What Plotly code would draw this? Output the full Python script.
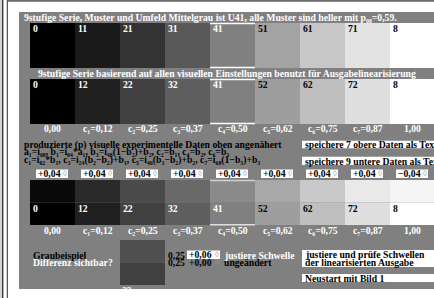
import plotly.graph_objects as go

# ---- data ----
row1_labels = ["0", "11", "21", "31", "41", "51", "61", "71", "8"]
row1_grey = [0.00, 0.10, 0.20, 0.35, 0.50, 0.64, 0.78, 0.89, 1.00]
row2_labels = ["0", "12", "22", "32", "41", "52", "62", "72", "8"]
row2_grey = [0.00, 0.125, 0.25, 0.37, 0.50, 0.62, 0.75, 0.875, 1.00]
c_labels = ["0,00", "c₁=0,12", "c₂=0,25", "c₃=0,37", "c₄=0,50",
            "c₅=0,62", "c₆=0,75", "c₇=0,87", "1,00"]
offsets = [0.04, 0.04, 0.04, 0.04, 0.04, 0.04, 0.04, 0.04, -0.04]
offset_labels = ["+0,04", "+0,04", "+0,04", "+0,04", "+0,04", "+0,04", "+0,04", "+0,04", "−0,04"]
sample_base = 0.25
sample_delta = 0.06
sample_label = "23"

# ---- layout constants ----
W, H = 434, 298
X0, CW = 30, 45
PANEL = "#808080"
FONT = "Liberation Serif, Times New Roman, serif"
FS = 9.7


def grey(v):
    g = int(round(max(0, min(1, v)) * 255))
    return f"rgb({g},{g},{g})"


shapes = []
ann = []


def rect(x0, y0, x1, y1, color):
    shapes.append(dict(type="rect", xref="x", yref="y", x0=x0, y0=y0, x1=x1, y1=y1,
                       fillcolor=color, line=dict(width=0), layer="below"))


def text(x, y, s, color="black", anchor="left", size=FS):
    ann.append(dict(x=x, y=y, xref="x", yref="y", text=f"<b>{s}</b>", showarrow=False,
                    xanchor=anchor, yanchor="middle", borderpad=0,
                    font=dict(family=FONT, size=size, color=color)))


def hline(x0, x1, y, color="white", w=1.5):
    shapes.append(dict(type="line", xref="x", yref="y", x0=x0, x1=x1, y0=y, y1=y,
                       line=dict(color=color, width=w)))


# frame
rect(0, 0, 2, H, "#d4d4d4")
rect(2, 0, 3.4, H, "#3a3a3a")
rect(6.7, 0, 8, H, "#5a5a5a")
rect(8, 0, W, 1.7, "#6a6a6a")
# panel
rect(19, 12, W, 289, PANEL)

# header 1
text(23, 17.5, "9stufige Serie, Muster und Umfeld Mittelgrau ist U41, alle Muster sind heller mit p₀₈=0,59.", "white")

# row 1
for i, (lab, g) in enumerate(zip(row1_labels, row1_grey)):
    x = X0 + i * CW
    rect(x, 23, x + CW, 68, grey(g))
    text(x + 1.5, 28.5, lab, "white" if g <= 0.5 else "black")
hline(X0 + 4 * CW, X0 + 5 * CW, 23.5)
hline(X0 + 4 * CW, X0 + 5 * CW, 67.5)

# header 2
text(227, 73.5, "9stufige Serie basierend auf allen visuellen Einstellungen benutzt für Ausgabelinearisierung",
     "white", anchor="center")

# row 2
for i, (lab, g) in enumerate(zip(row2_labels, row2_grey)):
    x = X0 + i * CW
    rect(x, 79, x + CW, 124, grey(g))
    text(x + 1.5, 84, lab, "white" if g <= 0.5 else "black")
    text(x + CW / 2, 128.5, c_labels[i], "white", anchor="center")
hline(X0 + 4 * CW, X0 + 5 * CW, 79.5)
hline(X0 + 4 * CW, X0 + 5 * CW, 123.5)

# description lines
text(23, 144.5, "produzierte (p) visuelle experimentelle Daten oben angenähert")
text(23, 152, "a₁=i₀₈, b₁=i₀₄*a₁, b₃=i₄₈(1−b₂)+b₂, c₂=b₁, c₄=b₂, c₆=b₃")
text(23, 159.5, "c₁=i₀₂*b₁, c₃=i₂₄(b₂−b₂)+b₁, c₅=i₄₆(b₃−b₂)+b₂, c₇=i₆₈(1−b₃)+b₃")

# right buttons
rect(302, 140.7, W, 148.3, "white")
text(304, 144.5, "speichere 7 obere Daten als Text")
rect(302, 156.7, W, 165, "white")
text(304, 161, "speichere 9 untere Daten als Text")

# spinners
for i, lab in enumerate(offset_labels):
    x = X0 + i * CW
    rect(x + 6, 169.5, x + 38, 178, "white")
    text(x + 6.5, 173.8, lab)
    text(x + 32, 173.8, "◊", "#999999", size=8)

# row 3
for i, (lab, g) in enumerate(zip(row2_labels, row2_grey)):
    x = X0 + i * CW
    rect(x, 180, x + CW, 202.5, grey(g + offsets[i]))
    rect(x, 202.5, x + CW, 225, grey(g))
    text(x + 1.5, 208.5, lab, "white" if g <= 0.5 else "black")
    text(x + CW / 2, 230.5, c_labels[i], "white", anchor="center")
hline(X0 + 4 * CW, X0 + 5 * CW, 180.5, "#d0d0d0")
hline(X0 + 4 * CW, X0 + 5 * CW, 224.8, "#e0e0e0")

# bottom section
text(32, 255, "Graubeispiel")
text(32, 262.5, "Differenz sichtbar?", "white")
rect(120, 240, 165, 262.5, grey(sample_base + sample_delta))
rect(120, 262.5, 165, 285, grey(sample_base))
text(121, 290.5, sample_label, "white")
text(166.5, 255, "0,25")
rect(187, 250.5, 220, 259, "white")
text(187.5, 254.8, "+0,06")
text(213.5, 254.8, "◊", "#999999", size=8)
text(222.5, 255, "justiere Schwelle", "white")
text(166.5, 262.5, "0,25")
text(187.5, 262.5, "+0,00")
text(213.5, 262.5, "◊", "#999999", size=8)
text(222.5, 262.5, "ungeändert")

rect(302, 250, W, 267, "white")
text(304, 254.5, "justiere und prüfe Schwellen")
text(304, 262, "der linearisierten Ausgabe")
rect(302, 274, W, 282, "white")
text(304, 278, "Neustart mit Bild 1")

fig = go.Figure()
fig.add_trace(go.Scatter(x=[0, W], y=[0, H], mode="markers", marker=dict(opacity=0), hoverinfo="skip"))
fig.update_layout(
    width=W, height=H, margin=dict(l=0, r=0, t=0, b=0),
    paper_bgcolor="white", plot_bgcolor="white", showlegend=False,
    xaxis=dict(range=[0, W], visible=False, fixedrange=True),
    yaxis=dict(range=[H, 0], visible=False, fixedrange=True),
    shapes=shapes, annotations=ann,
)
fig.write_html("out.html", config={"displayModeBar": False},
               post_script="document.body.style.margin='0';document.body.style.padding='0';document.body.style.overflow='hidden';")
